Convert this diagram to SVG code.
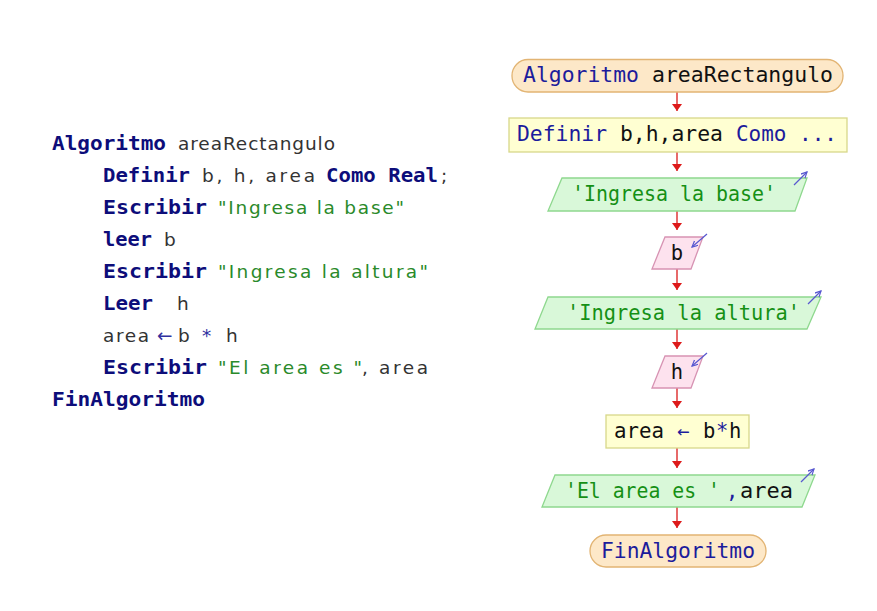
<svg xmlns="http://www.w3.org/2000/svg" width="877" height="611" viewBox="0 0 877 611">
  <defs>
    <style>
      .code { font-family: "DejaVu Sans", "Liberation Sans", sans-serif; font-size: 18.5px; }
      .kw { font-family: "DejaVu Sans Mono", monospace; font-weight: bold; font-size: 19.5px; fill: #0d0d7a; }
      .id { fill: #333333; }
      .str { fill: #2a8a2a; }
      .op { fill: #3030a0; }
      .fc { font-family: "DejaVu Sans Mono", "Liberation Mono", monospace; font-size: 20.5px; }
      .fkw { fill: #1c1c9c; }
      .fid { fill: #111111; }
      .fstr { fill: #159015; }
      .term { fill: #fde8c8; stroke: #e2b473; stroke-width: 1.3; }
      .proc { fill: #ffffd2; stroke: #d8d88a; stroke-width: 1.3; }
      .out { fill: #d9f8d9; stroke: #8ed88e; stroke-width: 1.3; }
      .inp { fill: #fde2ee; stroke: #d793b3; stroke-width: 1.3; }
      .flow { stroke: #dd2a2a; stroke-width: 1.4; fill: none; }
      .io { stroke: #5858d0; stroke-width: 1.2; fill: none; }
    </style>
    <marker id="head" markerWidth="10" markerHeight="8" refX="5" refY="7" orient="0" markerUnits="userSpaceOnUse">
      <path d="M0,0 L10,0 L5,7 Z" fill="#dd1a1a"/>
    </marker>
    <marker id="tip" markerWidth="8" markerHeight="8" refX="6" refY="3" orient="auto" markerUnits="userSpaceOnUse">
      <path d="M0,0 L6,3 L0,6" fill="none" stroke="#5858d0" stroke-width="1.2"/>
    </marker>
  </defs>

  <rect width="877" height="611" fill="#ffffff"/>

  <!-- pseudocode listing -->
  <g id="listing" class="code">
    <text y="150"><tspan class="kw" x="52" textLength="114" lengthAdjust="spacingAndGlyphs">Algoritmo</tspan><tspan class="id" x="178" textLength="157">areaRectangulo</tspan></text>
    <text y="182"><tspan class="kw" x="103" textLength="87" lengthAdjust="spacingAndGlyphs">Definir</tspan><tspan class="id" x="202" textLength="113">b, h, area</tspan><tspan class="kw" x="326" textLength="112" lengthAdjust="spacingAndGlyphs">Como Real</tspan><tspan class="id" x="441">;</tspan></text>
    <text y="214"><tspan class="kw" x="103" textLength="104" lengthAdjust="spacingAndGlyphs">Escribir</tspan><tspan class="str" x="218" textLength="186">"Ingresa la base"</tspan></text>
    <text y="246"><tspan class="kw" x="103" textLength="49" lengthAdjust="spacingAndGlyphs">leer</tspan><tspan class="id" x="164">b</tspan></text>
    <text y="278"><tspan class="kw" x="103" textLength="104" lengthAdjust="spacingAndGlyphs">Escribir</tspan><tspan class="str" x="218" textLength="210">"Ingresa la altura"</tspan></text>
    <text y="310"><tspan class="kw" x="103" textLength="50" lengthAdjust="spacingAndGlyphs">Leer</tspan><tspan class="id" x="177">h</tspan></text>
    <text y="342"><tspan class="id" x="103" textLength="46">area</tspan><tspan class="op" x="157">←</tspan><tspan class="id" x="178">b</tspan><tspan class="op" x="202">*</tspan><tspan class="id" x="226">h</tspan></text>
    <text y="374"><tspan class="kw" x="103" textLength="104" lengthAdjust="spacingAndGlyphs">Escribir</tspan><tspan class="str" x="218" textLength="144">"El area es "</tspan><tspan class="id" x="362" textLength="66">, area</tspan></text>
    <text y="406"><tspan class="kw" x="52" textLength="153" lengthAdjust="spacingAndGlyphs">FinAlgoritmo</tspan></text>
  </g>

  <!-- connectors -->
  <g id="connectors">
    <line class="flow" x1="677" y1="92" x2="677" y2="111" marker-end="url(#head)"/>
    <line class="flow" x1="677" y1="152" x2="677" y2="171" marker-end="url(#head)"/>
    <line class="flow" x1="677" y1="211" x2="677" y2="230" marker-end="url(#head)"/>
    <line class="flow" x1="677" y1="269" x2="677" y2="290" marker-end="url(#head)"/>
    <line class="flow" x1="677" y1="329" x2="677" y2="349" marker-end="url(#head)"/>
    <line class="flow" x1="677" y1="388" x2="677" y2="408" marker-end="url(#head)"/>
    <line class="flow" x1="677" y1="448" x2="677" y2="468" marker-end="url(#head)"/>
    <line class="flow" x1="677" y1="507" x2="677" y2="528" marker-end="url(#head)"/>
  </g>

  <!-- flowchart nodes -->
  <g id="inicio" class="fc">
    <rect class="term" x="512" y="59.5" width="331" height="32.5" rx="16"/>
    <text y="82"><tspan class="fkw" x="523" textLength="116" lengthAdjust="spacingAndGlyphs">Algoritmo</tspan><tspan class="fid" x="652" textLength="181" lengthAdjust="spacingAndGlyphs">areaRectangulo</tspan></text>
  </g>

  <g id="definir" class="fc">
    <rect class="proc" x="509" y="118" width="338" height="34"/>
    <text y="141"><tspan class="fkw" x="517" textLength="90" lengthAdjust="spacingAndGlyphs">Definir</tspan><tspan class="fid" x="620" textLength="103" lengthAdjust="spacingAndGlyphs">b,h,area</tspan><tspan class="fkw" x="736" textLength="101" lengthAdjust="spacingAndGlyphs">Como ...</tspan></text>
  </g>

  <g id="escribir-base" class="fc">
    <polygon class="out" points="562,178 807,178 795,211 548,211"/>
    <text class="fstr" x="572" y="201" textLength="204" lengthAdjust="spacingAndGlyphs">'Ingresa la base'</text>
    <line class="io" x1="794" y1="185" x2="807" y2="172" marker-end="url(#tip)"/>
  </g>

  <g id="leer-b" class="fc">
    <polygon class="inp" points="665,237 703,237 691,269 652,269"/>
    <text class="fid" x="677" y="260" text-anchor="middle">b</text>
    <line class="io" x1="707" y1="234" x2="692" y2="247" marker-end="url(#tip)"/>
  </g>

  <g id="escribir-altura" class="fc">
    <polygon class="out" points="548,297 821,297 807,329 535,329"/>
    <text class="fstr" x="567" y="320" textLength="233" lengthAdjust="spacingAndGlyphs">'Ingresa la altura'</text>
    <line class="io" x1="808" y1="304" x2="821" y2="291" marker-end="url(#tip)"/>
  </g>

  <g id="leer-h" class="fc">
    <polygon class="inp" points="665,356 703,356 691,388 652,388"/>
    <text class="fid" x="677" y="379" text-anchor="middle">h</text>
    <line class="io" x1="707" y1="353" x2="692" y2="366" marker-end="url(#tip)"/>
  </g>

  <g id="asignar" class="fc">
    <rect class="proc" x="606" y="415" width="143" height="33"/>
    <text y="438"><tspan class="fid" x="614" textLength="50" lengthAdjust="spacingAndGlyphs">area</tspan><tspan class="fkw" x="677">←</tspan><tspan class="fid" x="703">b</tspan><tspan class="fkw" x="716">*</tspan><tspan class="fid" x="729">h</tspan></text>
  </g>

  <g id="escribir-area" class="fc">
    <polygon class="out" points="555,475 815,475 802,507 542,507"/>
    <text y="498"><tspan class="fstr" x="565" textLength="155" lengthAdjust="spacingAndGlyphs">'El area es '</tspan><tspan class="fkw" x="726">,</tspan><tspan class="fid" x="740" textLength="53" lengthAdjust="spacingAndGlyphs">area</tspan></text>
    <line class="io" x1="801" y1="482" x2="814" y2="469" marker-end="url(#tip)"/>
  </g>

  <g id="fin" class="fc">
    <rect class="term" x="590" y="535" width="176" height="32" rx="16"/>
    <text class="fkw" x="601" y="558" textLength="154" lengthAdjust="spacingAndGlyphs">FinAlgoritmo</text>
  </g>
</svg>
